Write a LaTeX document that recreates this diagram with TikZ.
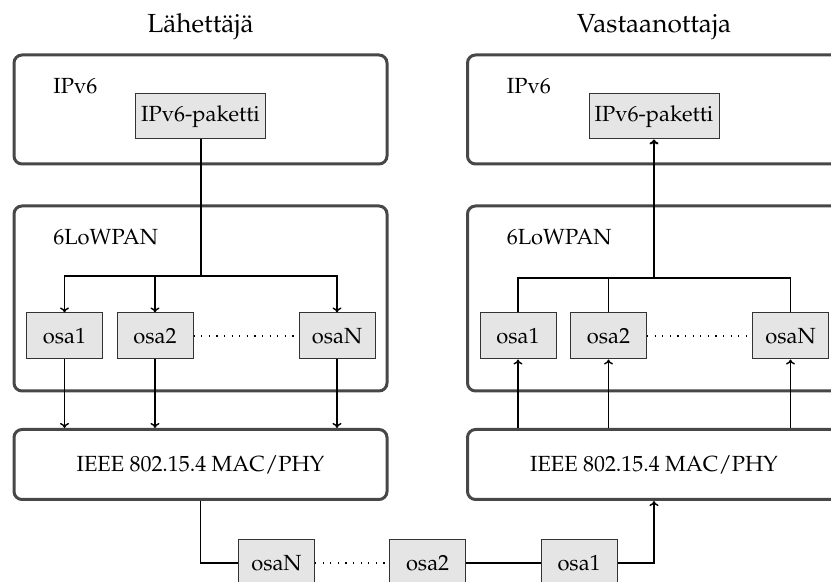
\documentclass[tikz,border=0pt]{standalone}
\usepackage[T1]{fontenc}
\usepackage{mathpazo}
\usetikzlibrary{arrows.meta}

\begin{document}
\begin{tikzpicture}[x=0.5pt,y=-0.5pt,
  every node/.style={font=\fontsize{10.95}{13.6}\selectfont},
  layer/.style={draw=black!72, line width=1.5pt, rounded corners=4pt,
                minimum width=186.5pt, inner sep=0pt},
  part/.style={draw=black!80, fill=black!10, line width=0.5pt,
               minimum width=38pt, minimum height=23pt, inner sep=0pt},
  packet/.style={part, minimum width=65pt, minimum height=22.5pt},
  tag/.style={inner sep=0pt, anchor=base west},
  title/.style={inner sep=0pt, anchor=base, font=\fontsize{13.1}{16}\selectfont},
  link/.style={line width=0.7pt},
  trunk/.style={line width=1pt},
  gap/.style={line width=0.6pt, dash pattern=on 0.6pt off 3.2pt},
  >={To[length=2.5pt,width=4.5pt]}]
\useasboundingbox (0,0) rectangle (831,582);
\clip (0,0) rectangle (831,582);

% column titles
\node[title] (sender)   at (200.5,33) {L\"ahett\"aj\"a};
\node[title] (receiver) at (654,33)   {Vastaanottaja};

% ---- sender stack ----
\node[layer, minimum height=54.5pt] (ipL) at (200.5,109.5) {};
\node[tag] (ipLtag) at (53,94) {IPv6};
\node[packet] (pakL) at (200.5,116.5) {IPv6-paketti};

\node[layer, minimum height=92.5pt] (lowL) at (200.5,298.5) {};
\node[tag] (lowLtag) at (53,245) {6LoWPAN};
\node[part] (s1) at (64.5,336) {osa1};
\node[part] (s2) at (155,336)  {osa2};
\node[part] (sN) at (337,336)  {osaN};
\coordinate (brL) at (200.5,276);

\node[layer, minimum height=35pt] (macL) at (200.5,464.5) {IEEE 802.15.4 MAC/PHY};

\draw[trunk] (pakL.south) -- (brL);
\draw[link,->] (brL) -| (s1.north);
\draw[link,->] (brL) -| (sN.north);
\draw[link,->] (s2.north |- brL) -- (s2.north);
\draw[gap] (s2.east) -- (sN.west);
\draw[link,->] (s1.south) -- (s1.south |- macL.north);
\draw[link,->] (s2.south) -- (s2.south |- macL.north);
\draw[link,->] (sN.south) -- (sN.south |- macL.north);

% ---- receiver stack ----
\node[layer, minimum height=54.5pt] (ipR) at (654,109.5) {};
\node[tag] (ipRtag) at (506.5,94) {IPv6};
\node[packet] (pakR) at (654,116.5) {IPv6-paketti};

\node[layer, minimum height=92.5pt] (lowR) at (654,298.5) {};
\node[tag] (lowRtag) at (506.5,245) {6LoWPAN};
\node[part] (r1) at (518,336)   {osa1};
\node[part] (r2) at (608.5,336) {osa2};
\node[part] (rN) at (790.5,336) {osaN};
\coordinate (brR) at (654,278);

\node[layer, minimum height=35pt] (macR) at (654,464.5) {IEEE 802.15.4 MAC/PHY};

\draw[link] (r1.north) |- (brR);
\draw[link] (rN.north) |- (brR);
\draw[link] (r2.north) -- (r2.north |- brR);
\draw[trunk,->] (brR) -- (pakR.south);
\draw[gap] (r2.east) -- (rN.west);
\draw[link,->] (r1.south |- macR.north) -- (r1.south);
\draw[link,->] (r2.south |- macR.north) -- (r2.south);
\draw[link,->] (rN.south |- macR.north) -- (rN.south);

% ---- fragments on the link ----
\node[part] (tN) at (276.5,563) {osaN};
\node[part] (t2) at (427.6,563) {osa2};
\node[part] (t1) at (579.1,563) {osa1};

\draw[link] (macL.south) |- (tN.west);
\draw[gap] (tN.east) -- (t2.west);
\draw[link] (t2.east) -- (t1.west);
\draw[link,->] (t1.east) -| (macR.south);
\end{tikzpicture}
\end{document}
